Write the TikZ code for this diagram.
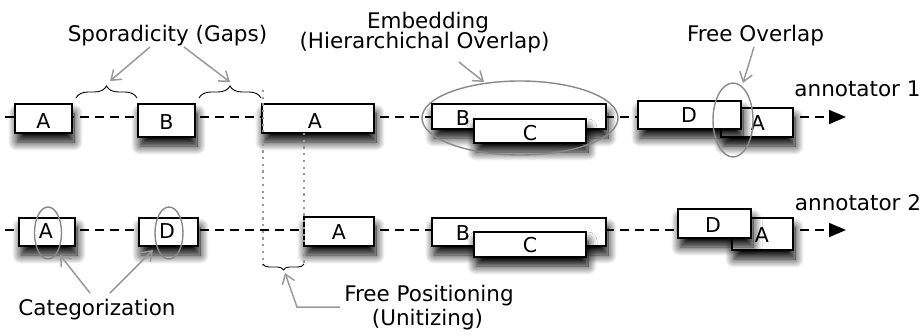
\documentclass[tikz,border=0pt]{standalone}
\usepackage{fontspec}
\setmainfont{DejaVu Sans}
\usetikzlibrary{arrows.meta,shapes.geometric,decorations.pathreplacing,shadows.blur}
\definecolor{anngray}{HTML}{999999}
\definecolor{ellgray}{HTML}{888888}
\begin{document}
\begin{tikzpicture}[x=1pt,y=-1pt,
  box/.style={draw=black, line width=1.6pt, fill=white, inner sep=0pt, outer sep=0pt, anchor=north west,
    blur shadow={shadow xshift=2pt,shadow yshift=-9pt,shadow blur radius=9pt,shadow opacity=100,shadow blur steps=12}},
  lbl/.style={font=\fontsize{20.5}{22}\selectfont, anchor=base, inner sep=0pt},
  txt/.style={font=\fontsize{21.5}{24}\selectfont, anchor=base, inner sep=0pt},
  timeline/.style={line width=1.8pt, dash pattern=on 9pt off 6pt, -{Triangle[length=17pt,width=14pt]}},
  note/.style={draw=anngray, line width=1.5pt, -{Straight Barb[length=9pt,width=13pt]}},
  ring/.style={ellipse, draw=ellgray, line width=1.4pt, inner sep=0pt, outer sep=0pt},
  gapbrace/.style={draw=black, line width=0.9pt, decorate, decoration={brace, amplitude=#1}},
  guide/.style={draw=anngray, line width=1.6pt, dash pattern=on 2.2pt off 4.5pt}
]
\useasboundingbox (0,0) rectangle (924,335);

% timelines
\coordinate (s1) at (5,117);  \coordinate (e1) at (846,117);
\coordinate (s2) at (5,230);  \coordinate (e2) at (846,230);
\draw[timeline] (s1) -- (e1);
\draw[timeline] (s2) -- (e2);

% row 1 boxes
\node[box, minimum width=57pt, minimum height=29pt] (a1) at (15,104) {};
\node[box, minimum width=57pt, minimum height=33pt] (b1) at (138,104) {};
\node[box, minimum width=112pt, minimum height=29pt] (la1) at (262,104) {};
\node[box, minimum width=174pt, minimum height=25pt] (bb1) at (432,104) {};
\node[box, minimum width=112pt, minimum height=24pt] (c1) at (474,119) {};
\node[box, minimum width=72pt, minimum height=29pt] (ab1) at (721,108) {};
\node[box, minimum width=103pt, minimum height=28pt] (d1) at (638,101) {};

% row 2 boxes
\node[box, minimum width=56pt, minimum height=28pt] (a2) at (19,218) {};
\node[box, minimum width=59pt, minimum height=28pt] (d2) at (139,218) {};
\node[box, minimum width=70pt, minimum height=29pt] (la2) at (304,217) {};
\node[box, minimum width=174pt, minimum height=28pt] (bb2) at (432,218) {};
\node[box, minimum width=112pt, minimum height=25pt] (c2) at (474,232) {};
\node[box, minimum width=61pt, minimum height=32pt] (ab2) at (732,218) {};
\node[box, minimum width=73pt, minimum height=29pt] (dd2) at (678,209) {};

% box labels
\node[lbl] (ta1) at (43.5,128) {A};
\node[lbl] (tb1) at (166.5,129) {B};
\node[lbl] (tla1) at (315,128) {A};
\node[lbl] (tbb1) at (463,125) {B};
\node[lbl] (tc1) at (530,140) {C};
\node[lbl] (tab1) at (758,130) {A};
\node[lbl] (td1) at (689,122) {D};
\node[lbl] (ta2) at (46,238) {A};
\node[lbl] (td2) at (167,238) {D};
\node[lbl] (tla2) at (339,239) {A};
\node[lbl] (tbb2) at (463,240) {B};
\node[lbl] (tc2) at (530,252) {C};
\node[lbl] (tab2) at (762,242) {A};
\node[lbl] (tdd2) at (713,232) {D};

% guides for free positioning
\coordinate (g1t) at (263,90);  \coordinate (g1b) at (263,266);
\coordinate (g2t) at (304,133); \coordinate (g2b) at (304,266);
\draw[guide] (g1t) -- (g1b);
\draw[guide] (g2t) -- (g2b);

% braces
\coordinate (br1a) at (76,98);  \coordinate (br1b) at (137,98);
\coordinate (br2a) at (199,98); \coordinate (br2b) at (261,98);
\coordinate (br3a) at (304,264); \coordinate (br3b) at (263,264);
\draw[gapbrace=12pt] (br1a) -- (br1b);
\draw[gapbrace=12pt] (br2a) -- (br2b);
\draw[gapbrace=6pt] (br3a) -- (br3b);

% ellipses
\node[ring, minimum width=196pt, minimum height=74pt] (emb) at (520,118) {};
\node[ring, minimum width=40pt, minimum height=74pt] (fov) at (733,120) {};
\node[ring, minimum width=27pt, minimum height=52pt] (ca) at (48,233) {};
\node[ring, minimum width=28pt, minimum height=52pt] (cd) at (169,233) {};

% texts
\node[txt] (spor) at (167.5,41) {Sporadicity (Gaps)};
\node[txt] (emb1) at (428,28) {Embedding};
\node[txt] (emb2) at (424.5,48) {(Hierarchichal Overlap)};
\node[txt] (fo) at (755.5,41) {Free Overlap};
\node[txt] (ann1) at (857.5,96) {annotator 1};
\node[txt] (ann2) at (858,210) {annotator 2};
\node[txt] (cat) at (97,315) {Categorization};
\node[txt] (fp1) at (429,301) {Free Positioning};
\node[txt] (fp2) at (427.5,325) {(Unitizing)};

% annotation arrows
\coordinate (p1s) at (150,47);  \coordinate (p1e) at (110,81);
\coordinate (p2s) at (184,47);  \coordinate (p2e) at (230,82);
\coordinate (p3s) at (459,62);  \coordinate (p3e) at (484,82);
\coordinate (p4s) at (754,47);  \coordinate (p4e) at (743,83);
\coordinate (p5s) at (90,293);  \coordinate (p5e) at (60,255);
\coordinate (p6s) at (110,293); \coordinate (p6e) at (153,250);
\coordinate (p7s) at (340,307); \coordinate (p7m) at (297,307); \coordinate (p7e) at (285,273);
\draw[note] (p1s) -- (p1e);
\draw[note] (p2s) -- (p2e);
\draw[note] (p3s) -- (p3e);
\draw[note] (p4s) -- (p4e);
\draw[note] (p5s) -- (p5e);
\draw[note] (p6s) -- (p6e);
\draw[note] (p7s) -- (p7m) -- (p7e);
\end{tikzpicture}
\end{document}
